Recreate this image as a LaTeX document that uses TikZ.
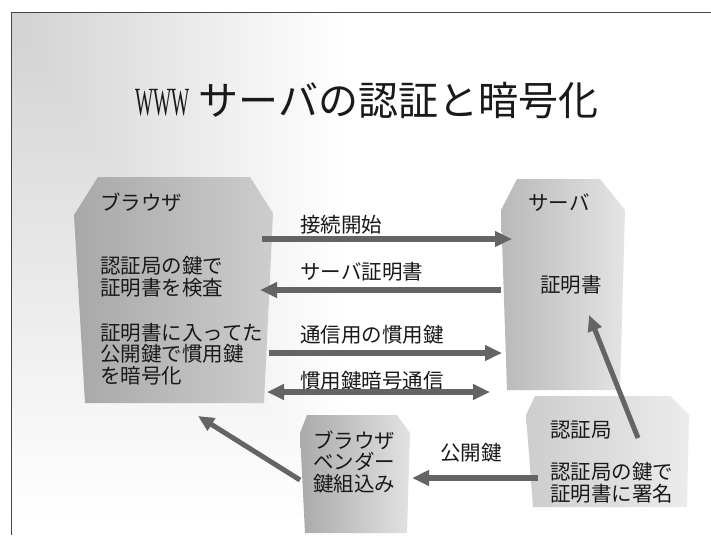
\documentclass[tikz,border=0pt]{standalone}
\usepackage{graphicx}
\usepackage{fontspec}
\setmainfont{Noto Sans CJK JP}
\newfontfamily\latinserif{Liberation Serif}
\usetikzlibrary{arrows.meta}
\definecolor{bgg}{RGB}{210,210,210}
\definecolor{framec}{RGB}{70,70,70}
\definecolor{arrowc}{RGB}{100,100,100}
\definecolor{txt}{RGB}{25,25,25}
\definecolor{brL}{RGB}{168,168,168}
\definecolor{brR}{RGB}{205,205,205}
\definecolor{svL}{RGB}{185,185,185}
\definecolor{svR}{RGB}{228,228,228}
\definecolor{caL}{RGB}{205,205,205}
\definecolor{caR}{RGB}{236,236,236}
\definecolor{vdL}{RGB}{170,170,170}
\definecolor{vdR}{RGB}{226,226,226}
\tikzset{
  lbl/.style={inner sep=0pt, anchor=west, text=txt, align=left,
    font=\fontsize{20.5}{21.5}\selectfont},
  titlestyle/.style={inner sep=0pt, anchor=west, text=txt,
    font=\fontsize{40}{42}\selectfont},
  arr/.style={draw=arrowc, line width=6pt,
    -{Triangle[length=17pt,width=15pt]}},
  darr/.style={draw=arrowc, line width=6pt,
    {Triangle[length=17pt,width=15pt]}-{Triangle[length=17pt,width=15pt]}},
  diagarr/.style={draw=arrowc, line width=5pt,
    -{Triangle[length=16pt,width=14pt]}},
  framestyle/.style={draw=framec, line width=1pt}
}
\begin{document}
\begin{tikzpicture}[x=1pt,y=-1pt]
\useasboundingbox (0,0) rectangle (711,535);
% background
\fill[white] (0,0) rectangle (711,535);
\foreach \i in {0,...,59}{
  \pgfmathsetmacro{\s}{1-\i/60}
  \pgfmathsetmacro{\p}{\i*100/59}
  \fill[bgg!\p!white] (11,13) rectangle ({11+335*\s},{13+510*\s});
}
% frame
\draw[framestyle] (711,13) -- (11,13) -- (11,535);
% boxes
\path[left color=brL, right color=brR] (98,177) -- (250,177) -- (273,213) -- (264,403) -- (85,403) -- (74,215) -- cycle;
\path[left color=svL, right color=svR] (517,179) -- (600,179) -- (625,210) -- (620,390) -- (507,390) -- (501,210) -- cycle;
\path[left color=caL, right color=caR] (535,396) -- (670,396) -- (689,415) -- (687,507) -- (533,507) -- (526,415) -- cycle;
\path[left color=vdL, right color=vdR] (307,415) -- (397,415) -- (410,433) -- (407,533) -- (305,533) -- (300,433) -- cycle;
% title
\node[titlestyle] (title) at (135,100) {{\latinserif\scalebox{0.48}[1]{WWW}} サーバの認証と暗号化};
% box texts
\node[lbl] (brname) at (100,202) {ブラウザ};
\node[lbl] (brcheck) at (100,277) {認証局の鍵で\\証明書を検査};
\node[lbl] (brenc) at (100,354) {証明書に入ってた\\公開鍵で慣用鍵\\を暗号化};
\node[lbl] (svname) at (528,203) {サーバ};
\node[lbl] (svcert) at (540,285) {証明書};
\node[lbl] (caname) at (550,430) {認証局};
\node[lbl] (casign) at (550,483) {認証局の鍵で\\証明書に署名};
\node[lbl] (vdname) at (313,462) {ブラウザ\\ベンダー\\鍵組込み};
% arrow labels
\node[lbl] (l1) at (300,225) {接続開始};
\node[lbl] (l2) at (300,272) {サーバ証明書};
\node[lbl] (l3) at (300,335) {通信用の慣用鍵};
\node[lbl] (l4) at (300,381) {慣用鍵暗号通信};
\node[lbl] (l5) at (440,453) {公開鍵};
% arrow end points
\coordinate (brA) at (262,239);
\coordinate (svA) at (512,239);
\coordinate (svB) at (501,290);
\coordinate (brB) at (260,290);
\coordinate (brC) at (269,353);
\coordinate (svC) at (502,353);
\coordinate (brD) at (267,392);
\coordinate (svD) at (490,392);
\coordinate (caE) at (538,478);
\coordinate (vdE) at (412,478);
\coordinate (caF) at (638,438);
\coordinate (svF) at (589,315);
\coordinate (vdG) at (300,480);
\coordinate (brG) at (198,416);
% arrows
\draw[arr] (brA) -- (svA);
\draw[arr] (svB) -- (brB);
\draw[arr] (brC) -- (svC);
\draw[darr] (brD) -- (svD);
\draw[arr] (caE) -- (vdE);
\draw[diagarr] (caF) -- (svF);
\draw[diagarr] (vdG) -- (brG);
\end{tikzpicture}
\end{document}
